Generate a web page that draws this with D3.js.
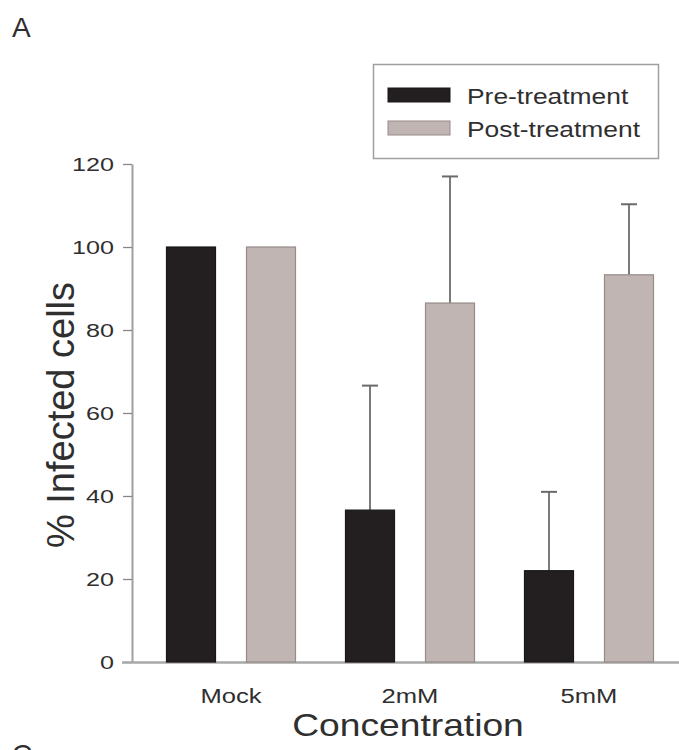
<!DOCTYPE html>
<html>
<head>
<meta charset="utf-8">
<script src="https://cdn.jsdelivr.net/npm/d3@7"></script>
<style>
  body { margin: 0; background: #fff; }
  svg { display: block; font-family: "Liberation Sans", Arial, sans-serif; }
</style>
</head>
<body>
<svg id="chart"></svg>
<script>
// Data
const categories = ["Mock", "2mM", "5mM"];
const seriesNames = ["Pre-treatment", "Post-treatment"];
const preValues = [100, 36.6, 22];
const preErrors = [0, 30, 19];
const postValues = [100, 86.5, 93.3];
const postErrors = [0, 30.5, 17];
const yTicks = [0, 20, 40, 60, 80, 100, 120];

const dims = {
  width: 679,
  height: 750,
  axisX: 132,
  plotRight: 679,
  plotTop: 164,
  plotBottom: 662
};

const colors = ["#231f20", "#c0b5b2"];
const strokes = ["#1a1718", "#958b89"];
const textColor = "#2f2f2f";

const svg = d3.select("#chart")
    .attr("width", dims.width)
    .attr("height", dims.height);

// group centres on the x axis
const x = d3.scalePoint()
    .domain(categories)
    .range([231, 589]);

// offset of each series inside a group
const xSub = d3.scalePoint()
    .domain(seriesNames)
    .range([-40, 40]);
const barWidth = 49;

const y = d3.scaleLinear()
    .domain([0, 120])
    .range([dims.plotBottom, dims.plotTop]);

// horizontally stretched text, the figure's labels look wide
function wideText(g, tx, ty, sx, size, anchor, str) {
  return g.append("text")
      .attr("transform", `translate(${tx},${ty}) scale(${sx},1)`)
      .attr("text-anchor", anchor)
      .attr("font-size", size)
      .attr("fill", textColor)
      .text(str);
}

// y axis
const yAxis = g => g
    .attr("transform", `translate(${dims.axisX},0)`)
    .call(d3.axisLeft(y).tickValues(yTicks).tickSize(9).tickSizeOuter(0).tickFormat(""))
    .call(g => g.select(".domain").attr("stroke", "#a0a0a0").attr("stroke-width", 2))
    .call(g => g.selectAll(".tick line").attr("stroke", "#888").attr("stroke-width", 1.3));
svg.append("g").call(yAxis);

yTicks.forEach(t => {
  wideText(svg, 114, y(t) + 6.5, 1.4, 18, "end", t);
});

// x baseline
svg.append("line")
    .attr("x1", 122)
    .attr("x2", dims.plotRight)
    .attr("y1", y(0) + 0.5)
    .attr("y2", y(0) + 0.5)
    .attr("stroke", "#a8a8a8")
    .attr("stroke-width", 2.5);

// bars + error bars
const allSeries = [
  { name: seriesNames[0], values: preValues, errors: preErrors },
  { name: seriesNames[1], values: postValues, errors: postErrors }
];

allSeries.forEach((s, si) => {
  const g = svg.append("g");
  categories.forEach((c, i) => {
    const cx = x(c) + xSub(s.name);
    if (s.errors[i] > 0) {
      const top = y(s.values[i] + s.errors[i]);
      g.append("line")
          .attr("x1", cx).attr("x2", cx)
          .attr("y1", y(s.values[i])).attr("y2", top)
          .attr("stroke", "#7a7a7a").attr("stroke-width", 2);
      g.append("line")
          .attr("x1", cx - 8).attr("x2", cx + 8)
          .attr("y1", top).attr("y2", top)
          .attr("stroke", "#6a6a6a").attr("stroke-width", 2);
    }
    g.append("rect")
        .attr("x", cx - barWidth / 2)
        .attr("y", y(s.values[i]))
        .attr("width", barWidth)
        .attr("height", y(0) - y(s.values[i]))
        .attr("fill", colors[si])
        .attr("stroke", strokes[si])
        .attr("stroke-width", 1.2);
  });
});

// category labels
categories.forEach(c => {
  wideText(svg, x(c), 703, 1.28, 20, "middle", c);
});

// axis titles
wideText(svg, 408, 736, 1.2, 31, "middle", "Concentration");

svg.append("text")
    .attr("transform", `translate(74,415) rotate(-90)`)
    .attr("text-anchor", "middle")
    .attr("font-size", 38)
    .attr("fill", textColor)
    .text("% Infected cells");

// legend
const legend = svg.append("g");
legend.append("rect")
    .attr("x", 373.5).attr("y", 64.5)
    .attr("width", 285).attr("height", 94)
    .attr("fill", "#fff")
    .attr("stroke", "#a0a0a0")
    .attr("stroke-width", 1.5);

seriesNames.forEach((name, i) => {
  const ly = i === 0 ? 88 : 121;
  legend.append("rect")
      .attr("x", 388).attr("y", ly)
      .attr("width", 62).attr("height", 14)
      .attr("fill", colors[i])
      .attr("stroke", strokes[i])
      .attr("stroke-width", 1);
  wideText(legend, 467, ly + 16, 1.2, 22, "start", name);
});

// panel letters
svg.append("text")
    .attr("x", 12).attr("y", 37)
    .attr("font-size", 28)
    .attr("fill", textColor)
    .text("A");

svg.append("text")
    .attr("x", 12).attr("y", 764)
    .attr("font-size", 28)
    .attr("fill", textColor)
    .text("C");
</script>
</body>
</html>
